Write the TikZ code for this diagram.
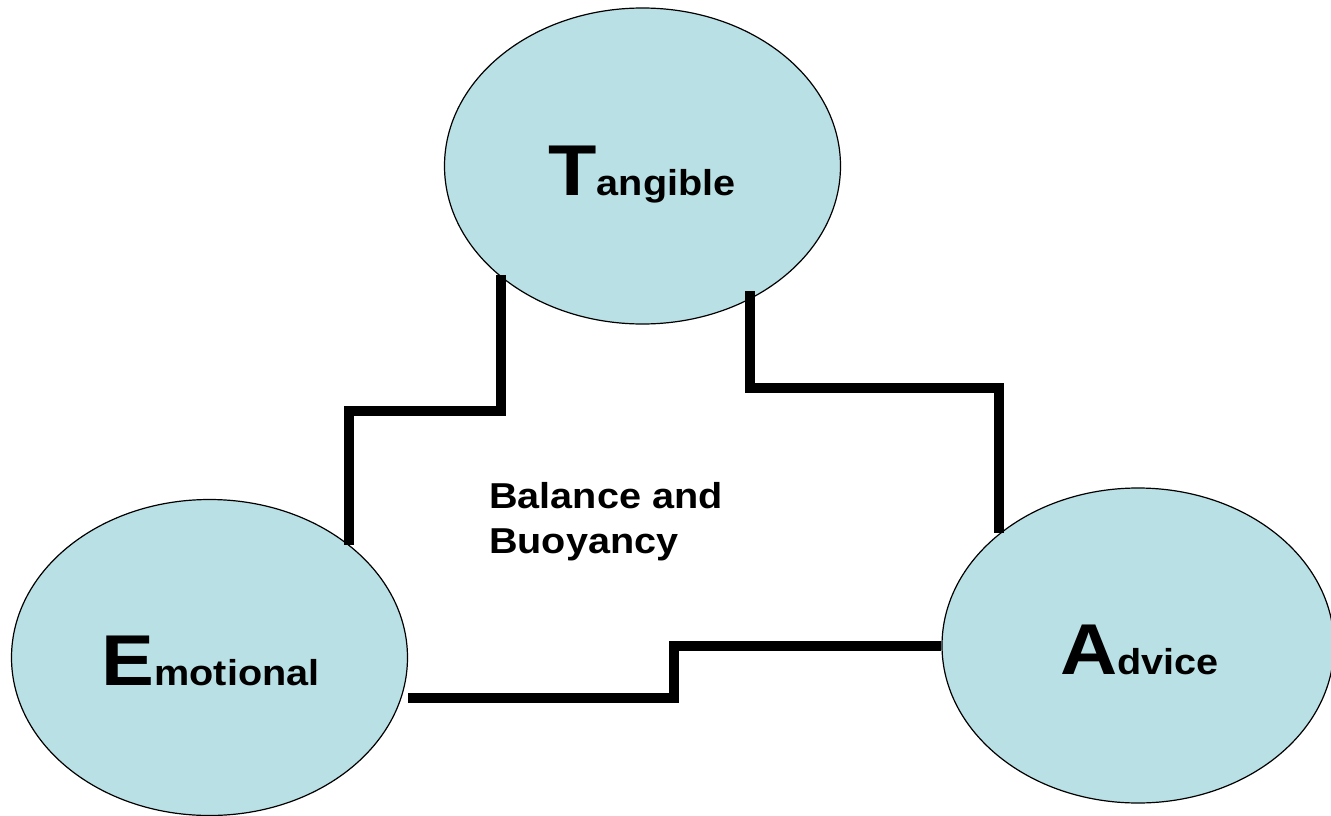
\documentclass[tikz,border=0pt]{standalone}
\usepackage{fontspec}
\newfontfamily\wfont[FakeStretch=1.1]{Liberation Sans}
\usetikzlibrary{shapes.geometric}
\definecolor{bubfill}{RGB}{185,224,228}
\tikzset{
  bub/.style={ellipse, draw=black, line width=1.2pt, fill=bubfill, inner sep=0pt,
              minimum width=396pt, minimum height=316pt},
  lbl/.style={anchor=base, inner sep=0pt, font=\wfont\bfseries},
  link/.style={line width=10pt, line cap=butt, line join=miter, draw=black}
}
\newcommand{\bigsmall}[2]{{\fontsize{72}{72}\selectfont #1}{\fontsize{36}{36}\selectfont #2}}
\begin{document}
\begin{tikzpicture}[x=1pt,y=-1pt]
\useasboundingbox (0,0) rectangle (1331,816);
\node[bub] (T) at (642.5,166) {};
\node[bub] (E) at (209.5,657.5) {};
\node[bub, minimum width=392pt, minimum height=315pt] (A) at (1138,645.5) {};
\node[lbl] (tT) at (642,195) {\bigsmall{T}{angible}};
\node[lbl] (tE) at (210.5,685) {\bigsmall{E}{motional}};
\node[lbl] (tA) at (1139.5,674) {\bigsmall{A}{dvice}};
\node[anchor=base west, inner sep=0pt, font=\wfont\bfseries\fontsize{36}{45}\selectfont] (bb) at (489,508)
  {\vtop{\baselineskip=45pt\hbox{Balance and}\hbox{Buoyancy}}};
\coordinate (ls) at ([yshift=2pt]T.218.4);
\coordinate (rs) at ([yshift=8pt]T.309.8);
\coordinate (bs) at ([yshift=-40.5pt]E.east);
\coordinate (lx) at (348,411);
\coordinate (rx) at (999,388);
\coordinate (bx) at (674,0);
\draw[link] (ls) -- (ls |- lx) -| (E.39);
\draw[link] (rs) -- (rs |- rx) -| (A.141.4);
\draw[link] (bs) -- (bs -| bx) -- (bx |- A.west) -- (A.west);
\end{tikzpicture}
\end{document}
